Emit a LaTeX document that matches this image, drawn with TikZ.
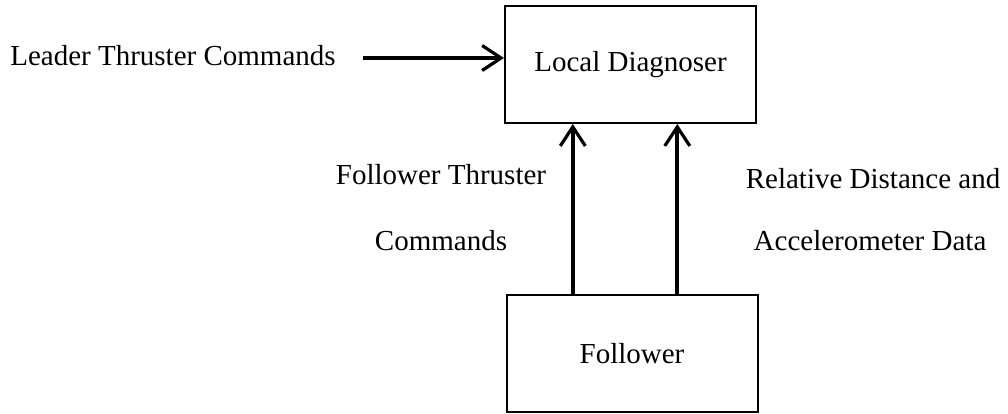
\documentclass[tikz,border=0pt]{standalone}
\usepackage{fontspec}
\setmainfont{Liberation Serif}
\usetikzlibrary{arrows.meta,calc}

\begin{document}
\begin{tikzpicture}[x=1pt,y=-1pt,
  every node/.style={font=\fontsize{29}{35}\selectfont},
  block/.style={draw, line width=2pt, minimum width=251pt, minimum height=117pt, inner sep=0pt},
  caption/.style={anchor=base, inner sep=0pt},
  flow/.style={line width=3.6pt, -{Straight Barb[length=19pt,width=25pt,line width=3.2pt]}}
]
  \useasboundingbox (0,0) rectangle (1008,413);

  % the two blocks
  \node[block] (diag) at (630.5,64.5) {Local Diagnoser};
  \node[block] (fol)  at (632,353.5) {Follower};

  % labels
  \node[caption] (leadtxt) at (173,65) {Leader Thruster Commands};
  \node[caption] (ftc1) at (441,184) {Follower Thruster};
  \node[caption] (ftc2) at (441,250) {Commands};
  \node[caption] (rel1) at (873,188) {Relative Distance and};
  \node[caption] (rel2) at (870,250) {Accelerometer Data};

  % leader commands into the diagnoser
  \coordinate (leadstart) at (363,58);
  \draw[flow] (leadstart) -- (diag.west |- leadstart);

  % follower outputs up into the diagnoser
  \coordinate (p1) at ($(fol.north west)!0.266!(fol.north east)$);
  \coordinate (p2) at ($(fol.north west)!0.679!(fol.north east)$);
  \draw[flow] (p1) -- (diag.south -| p1);
  \draw[flow] (p2) -- (diag.south -| p2);
\end{tikzpicture}
\end{document}
